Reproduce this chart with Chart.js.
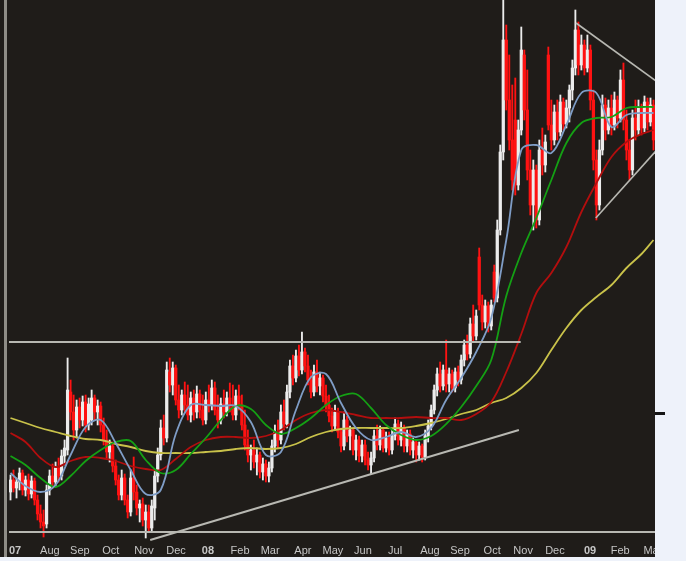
<!DOCTYPE html>
<html>
<head>
<meta charset="utf-8">
<title>Price chart 2007-2009</title>
<script src="https://cdn.jsdelivr.net/npm/chart.js@4.4.1/dist/chart.umd.min.js"></script>
<style>
  html, body { margin: 0; padding: 0; background: #eef2fa; }
  #chart { display: block; }
</style>
</head>
<body>
<canvas id="chart" width="686" height="561"></canvas>
<script>
// Candles (one every ~2 sessions), prices
const opens = [
  10.8, 12.0, 11.2, 11.8, 12.7, 11.0, 12.0, 10.6, 11.9, 10.0,
  8.6, 7.8, 7.6, 11.0, 12.4, 11.8, 13.2, 12.4, 14.4, 15.0,
  20.8, 18.8, 17.0, 19.3, 18.0, 19.8, 17.5, 18.0, 20.2, 18.8,
  19.4, 17.5, 16.0, 14.8, 15.4, 13.4, 12.0, 10.5, 12.2, 10.0,
  8.8, 12.2, 10.8, 9.2, 9.6, 8.0, 8.8, 7.2, 9.2, 12.4,
  14.5, 17.2, 16.2, 22.8, 21.5, 23.2, 20.0, 19.0, 20.5, 19.5,
  18.5, 20.2, 18.8, 20.6, 19.0, 18.0, 20.0, 19.5, 21.2, 19.0,
  18.0, 19.6, 18.8, 20.2, 19.5, 18.5, 20.4, 19.5, 17.5, 15.5,
  14.5, 15.0, 13.8, 14.5, 12.8, 13.6, 12.4, 13.2, 15.4, 16.8,
  16.0, 18.8, 17.6, 20.8, 23.4, 22.2, 24.4, 23.0, 24.8, 23.4,
  22.0, 20.8, 22.8, 21.4, 22.2, 20.4, 19.5, 18.4, 17.4, 18.8,
  16.8, 15.4, 18.0, 16.4, 17.0, 15.0, 16.0, 14.4, 15.5, 14.0,
  13.5, 14.2, 16.4, 15.5, 17.0, 15.2, 16.2, 15.0, 16.4, 17.6,
  16.0, 17.2, 15.4, 16.6, 15.0, 15.8, 14.5, 15.4, 14.3, 16.4,
  17.4, 19.0, 21.0, 22.6, 21.4, 23.0, 21.6, 22.6, 21.2, 22.8,
  22.0, 24.0, 25.5, 24.6, 27.6, 26.4, 34.3, 29.5, 27.8, 29.4,
  27.4, 32.8, 30.2, 37.0, 44.8, 56.0, 50.0, 46.0, 48.0, 41.5,
  47.0, 54.5, 49.0, 43.0, 39.5, 43.0, 38.0, 45.0, 43.5, 54.5,
  47.5, 46.0, 48.8, 46.8, 49.8, 47.6, 49.2, 51.0, 53.2, 57.0,
  53.5, 55.5, 53.2, 55.0, 50.0, 44.0, 39.5, 45.0, 49.5, 47.0,
  49.2, 47.5, 50.0, 48.2, 52.0, 48.0, 45.0, 43.0, 48.2, 47.0,
  49.2, 47.2, 49.8, 47.8, 49.5
];
const highs = [
  12.5, 13.0, 12.2, 13.2, 13.0, 12.4, 12.6, 12.4, 12.2, 10.5,
  9.5, 9.0, 11.5, 13.0, 13.6, 13.8, 14.2, 15.0, 16.0, 24.2,
  22.0, 20.5, 20.0, 20.2, 20.4, 20.5, 20.2, 21.0, 20.5, 20.0,
  19.8, 18.2, 17.0, 16.0, 15.8, 14.0, 12.5, 13.0, 12.6, 10.5,
  13.0, 14.3, 11.5, 10.0, 10.2, 9.5, 9.5, 10.0, 13.0, 15.2,
  18.0, 18.5, 23.8, 24.2, 23.8, 23.5, 21.5, 21.0, 21.8, 21.5,
  20.8, 21.0, 21.4, 21.0, 20.5, 20.8, 21.5, 22.0, 21.8, 20.5,
  20.2, 21.0, 20.8, 21.7, 21.5, 21.0, 21.5, 20.5, 19.0, 17.0,
  15.5, 16.0, 15.2, 14.8, 14.2, 14.0, 13.8, 16.0, 17.5, 18.0,
  19.5, 20.0, 21.5, 24.0, 24.5, 25.0, 25.5, 26.8, 25.2, 24.5,
  23.0, 23.5, 24.0, 22.8, 22.5, 21.5, 20.5, 19.2, 19.5, 19.2,
  17.2, 18.8, 18.4, 17.4, 17.2, 16.5, 16.4, 16.0, 16.0, 14.8,
  14.8, 17.0, 17.5, 17.4, 17.2, 16.8, 16.8, 17.0, 18.2, 18.0,
  17.8, 17.5, 17.0, 17.0, 16.2, 16.0, 15.8, 15.6, 17.0, 18.0,
  19.5, 21.5, 23.2, 23.8, 23.5, 26.0, 23.2, 23.0, 23.2, 23.4,
  24.5, 26.0, 26.5, 28.2, 29.5, 29.0, 35.2, 30.5, 30.0, 29.8,
  30.0, 33.5, 38.0, 45.5, 60.0, 57.5, 54.5, 51.5, 52.2, 48.0,
  57.3, 55.0, 53.0, 45.0, 44.0, 43.5, 46.0, 47.2, 46.5, 55.3,
  50.0, 49.5, 50.0, 50.5, 50.2, 50.0, 51.5, 54.0, 59.0, 57.8,
  56.5, 56.0, 56.5, 55.5, 51.0, 45.0, 46.0, 50.5, 50.2, 50.0,
  50.5, 50.8, 50.4, 53.0, 53.7, 49.0, 46.0, 49.0, 50.0, 50.0,
  49.6, 50.4, 50.2, 50.2, 50.0
];
const lows = [
  10.0, 10.8, 10.2, 11.0, 10.5, 10.4, 10.0, 10.2, 9.5, 8.0,
  7.2, 6.3, 7.2, 10.5, 11.2, 11.4, 11.8, 12.0, 13.5, 14.5,
  18.0, 16.0, 16.2, 17.2, 17.4, 16.8, 17.0, 17.5, 18.0, 17.5,
  16.8, 15.5, 14.2, 13.8, 12.8, 11.5, 10.0, 10.0, 9.5, 8.2,
  8.4, 10.0, 8.5, 7.8, 7.4, 6.2, 6.8, 6.8, 8.0, 11.8,
  14.0, 15.5, 15.8, 20.8, 20.5, 19.5, 18.2, 18.5, 18.8, 18.0,
  17.8, 18.0, 18.2, 18.2, 17.5, 17.6, 18.8, 19.0, 18.5, 17.2,
  17.6, 18.2, 18.4, 18.8, 18.0, 18.0, 19.0, 17.0, 15.0, 13.8,
  13.0, 13.2, 12.5, 12.2, 12.0, 11.8, 11.8, 12.8, 14.8, 15.2,
  15.6, 17.0, 17.2, 20.2, 21.5, 21.8, 22.4, 22.6, 22.8, 21.5,
  20.2, 20.4, 20.8, 20.5, 19.8, 18.8, 17.8, 16.8, 17.0, 16.2,
  14.8, 15.0, 15.8, 15.0, 14.5, 14.0, 13.8, 13.8, 13.5, 13.0,
  12.6, 13.8, 15.0, 15.0, 14.8, 14.8, 14.5, 14.6, 16.0, 15.5,
  15.4, 14.8, 14.8, 14.5, 14.2, 13.8, 14.0, 13.8, 14.0, 15.8,
  17.0, 18.6, 20.4, 20.8, 21.0, 20.8, 20.8, 20.8, 20.8, 21.4,
  21.6, 23.4, 24.0, 24.2, 25.8, 26.0, 29.0, 27.0, 27.2, 26.8,
  27.0, 29.8, 29.8, 36.5, 44.0, 49.0, 45.0, 41.0, 40.5, 41.0,
  46.5, 48.0, 42.0, 38.5, 37.0, 37.2, 37.5, 42.5, 42.8, 47.0,
  45.0, 45.5, 46.0, 46.4, 47.0, 47.2, 47.8, 50.0, 52.5, 52.5,
  53.0, 52.5, 52.8, 49.0, 43.0, 38.0, 39.0, 44.5, 46.0, 46.6,
  46.5, 47.0, 47.2, 47.8, 47.0, 44.0, 42.0, 42.5, 46.0, 46.5,
  46.5, 46.8, 47.0, 47.4, 45.0
];
const closes = [
  12.0, 11.2, 11.8, 12.7, 11.0, 12.0, 10.6, 11.9, 10.0, 8.6,
  7.8, 7.4, 11.0, 12.4, 11.8, 13.2, 12.4, 14.4, 15.2, 21.0,
  18.8, 17.0, 19.3, 18.0, 19.8, 17.5, 19.6, 20.2, 18.8, 19.4,
  17.5, 16.0, 14.8, 15.4, 13.4, 12.0, 10.5, 12.2, 10.0, 8.8,
  12.2, 10.8, 9.2, 9.6, 8.0, 8.8, 7.2, 9.4, 12.4, 14.5,
  17.2, 16.2, 23.0, 21.5, 23.2, 20.0, 19.0, 20.5, 19.5, 18.5,
  20.2, 18.8, 20.6, 19.0, 18.0, 20.0, 19.5, 21.2, 19.0, 18.0,
  19.6, 18.8, 20.2, 19.5, 18.5, 20.4, 19.5, 17.5, 15.5, 14.5,
  15.0, 13.8, 14.5, 12.8, 13.6, 12.4, 13.2, 15.4, 16.8, 16.0,
  18.8, 17.6, 20.8, 23.4, 22.2, 24.4, 23.0, 24.8, 23.4, 22.0,
  20.8, 22.8, 21.4, 22.2, 20.4, 19.5, 18.4, 17.4, 18.8, 16.8,
  15.4, 18.0, 16.4, 17.0, 15.0, 16.0, 14.4, 15.5, 14.0, 13.5,
  14.2, 16.4, 15.5, 17.0, 15.2, 16.2, 15.0, 16.4, 17.6, 16.0,
  17.2, 15.4, 16.6, 15.0, 15.8, 14.5, 15.4, 14.3, 16.4, 17.4,
  19.0, 21.0, 22.6, 21.4, 23.0, 21.6, 22.6, 21.2, 22.8, 22.0,
  24.0, 25.5, 24.6, 27.6, 26.4, 28.4, 29.5, 27.8, 29.4, 27.4,
  29.5, 30.2, 37.0, 44.8, 56.0, 50.0, 46.0, 42.0, 41.5, 47.0,
  55.0, 49.0, 43.0, 39.5, 43.0, 38.0, 45.0, 43.5, 45.8, 47.5,
  46.0, 48.8, 46.8, 49.8, 47.6, 49.2, 51.0, 53.2, 57.0, 53.5,
  55.5, 53.2, 55.0, 50.0, 44.0, 39.5, 45.0, 49.5, 47.0, 49.2,
  47.5, 50.0, 48.2, 52.0, 48.0, 45.0, 43.0, 48.2, 47.0, 49.2,
  47.2, 49.8, 47.8, 49.5, 46.0
];

// Moving averages, read every 5 candles
const maIndex = [
  0, 5, 10, 15, 20, 25, 30, 35, 40, 45, 50, 55, 60, 65, 70, 75, 80, 85, 90, 95, 100,
  105, 110, 115, 120, 125, 130, 135, 140, 145, 150, 155, 160, 165, 170, 175, 180,
  185, 190, 195, 200, 205, 210, 214
];
const maFast = [
  12.7, 11.4, 10.8, 11.5, 14.5, 17.3, 18.0, 15.7, 13.0, 10.6, 11.0, 16.6, 19.5, 19.5, 19.4,
  19.4, 17.8, 14.5, 14.8, 19.0, 22.3, 22.6, 19.7, 17.2, 16.0, 16.3, 16.8, 16.3, 17.2, 20.0,
  22.2, 24.8, 28.2, 36.0, 45.0, 45.5, 44.7, 47.5, 50.7, 50.7, 47.3, 48.5, 48.7, 48.7
];
const maMid = [
  14.4, 13.5, 12.2, 11.3, 12.4, 13.9, 15.0, 15.8, 15.9, 14.0, 12.7, 13.0, 14.6, 16.2, 18.0,
  19.4, 19.1, 17.5, 16.6, 17.2, 18.2, 19.5, 20.4, 20.6, 19.2, 17.5, 16.5, 16.0, 16.4, 17.6,
  19.3, 21.4, 24.0, 30.4, 34.7, 38.2, 42.0, 45.7, 47.7, 48.2, 48.3, 49.2, 49.3, 49.3
];
const maSlow = [
  16.7, 15.8, 14.2, 13.3, 13.9, 14.3, 14.2, 13.9, 13.4, 13.1, 13.0, 14.1, 15.3, 16.0, 16.3,
  16.3, 16.2, 16.4, 17.0, 18.0, 18.7, 19.0, 18.8, 18.5, 18.2, 18.2, 18.2, 18.3, 18.2, 18.2,
  18.0, 18.6, 19.8, 22.8, 26.6, 30.7, 32.7, 35.3, 38.8, 41.7, 44.3, 45.8, 46.6, 47.0
];
const maLong = [
  18.2, 17.7, 17.2, 16.8, 16.4, 16.1, 16.0, 15.6, 15.3, 14.9, 14.7, 14.7, 14.7, 14.8, 14.9,
  15.1, 15.2, 15.1, 15.2, 15.6, 16.3, 16.8, 17.1, 17.2, 17.2, 17.2, 17.2, 17.4, 17.7, 18.1,
  18.6, 19.0, 19.7, 20.2, 21.2, 22.7, 25.0, 27.2, 29.0, 30.3, 31.5, 33.2, 34.6, 36.0
];

// Drawn trend lines: [candle index, price]
const resistanceLine = [[-0.5, 25.8], [169.8, 25.8]];
const supportLine = [[-0.5, 6.8], [214.5, 6.8]];
const risingLine = [[46.5, 6.0], [169.2, 17.0]];
const triangleTop = [[188.2, 57.7], [214.8, 51.9]];
const triangleBottom = [[194.8, 38.2], [214.8, 44.9]];

// Month axis
const monthTicks = [1.5, 13.1, 23.1, 33.4, 44.4, 55.1, 65.7, 76.4, 86.4, 97.3, 107.3,
  117.3, 128.0, 139.6, 149.6, 160.3, 170.6, 181.2, 192.9, 202.9, 213.2];
const monthLabels = ['07', 'Aug', 'Sep', 'Oct', 'Nov', 'Dec', '08', 'Feb', 'Mar', 'Apr', 'May',
  'Jun', 'Jul', 'Aug', 'Sep', 'Oct', 'Nov', 'Dec', '09', 'Feb', 'Ma'];

const RED = '#ff1212';
const WHITE = '#ececec';
const candleColor = ctx => (closes[ctx.dataIndex] < opens[ctx.dataIndex] ? RED : WHITE);

const toPoints = (xs, ys) => xs.map((x, k) => ({ x, y: ys[k] }));
const pairPoints = pairs => pairs.map(p => ({ x: p[0], y: p[1] }));

const maLine = (values, color) => ({
  type: 'line',
  data: toPoints(maIndex, values),
  borderColor: color,
  borderWidth: 1.8,
  pointRadius: 0,
  tension: 0.35,
  order: 1
});

const drawnLine = (pairs, width) => ({
  type: 'line',
  data: pairPoints(pairs),
  borderColor: '#b8b8b2',
  borderWidth: width,
  pointRadius: 0,
  tension: 0,
  order: 0
});

// Dark panel, left frame and the light strip on the right
const backdrop = {
  id: 'backdrop',
  beforeDraw(chart) {
    const c = chart.ctx;
    const area = chart.chartArea;
    c.save();
    c.fillStyle = '#1f1c19';
    c.fillRect(0, 0, area.right, chart.height - 4);
    c.fillStyle = '#8e8c86';
    c.fillRect(4, 0, 3, chart.height - 4);
    c.restore();
  },
  afterDraw(chart) {
    const c = chart.ctx;
    const area = chart.chartArea;
    c.save();
    c.fillStyle = '#eef2fa';
    c.fillRect(area.right, 0, chart.width - area.right, chart.height);
    c.fillRect(0, chart.height - 4, chart.width, 4);
    c.fillStyle = '#151515';
    c.fillRect(area.right, 412, 10, 3);
    c.restore();
  }
};

new Chart(document.getElementById('chart'), {
  type: 'bar',
  data: {
    datasets: [
      drawnLine(resistanceLine, 2),
      drawnLine(supportLine, 2),
      drawnLine(risingLine, 2),
      drawnLine(triangleTop, 1.6),
      drawnLine(triangleBottom, 1.6),
      maLine(maFast, '#7f9dc6'),
      maLine(maMid, '#14a014'),
      maLine(maSlow, '#b30e0e'),
      maLine(maLong, '#c9c24a'),
      {
        data: opens.map((o, i) => ({ x: i, y: [o, closes[i]] })),
        backgroundColor: candleColor,
        barThickness: 2.6,
        grouped: false,
        order: 2
      },
      {
        data: lows.map((l, i) => ({ x: i, y: [l, highs[i]] })),
        backgroundColor: candleColor,
        barThickness: 1.2,
        grouped: false,
        order: 3
      }
    ]
  },
  options: {
    responsive: false,
    animation: false,
    layout: { padding: { left: 9, right: 31, top: 0, bottom: 0 } },
    plugins: {
      legend: { display: false },
      tooltip: { enabled: false }
    },
    scales: {
      x: {
        type: 'linear',
        min: -0.5,
        max: 214.5,
        offset: false,
        grid: { display: false, drawTicks: false },
        border: { display: false },
        afterBuildTicks: scale => {
          scale.ticks = monthTicks.map(v => ({ value: v }));
        },
        afterFit: scale => {
          scale.height = 18;
        },
        ticks: {
          autoSkip: false,
          maxRotation: 0,
          padding: 1,
          color: '#c6c6c6',
          font: ctx => ({
            family: 'Liberation Sans, Arial, sans-serif',
            size: 11,
            weight: /^\d/.test(monthLabels[ctx.index] || '') ? 'bold' : 'normal'
          }),
          callback: (value, index) => monthLabels[index]
        }
      },
      y: {
        display: false,
        min: 5.7,
        max: 60
      }
    }
  },
  plugins: [backdrop]
});
</script>
</body>
</html>
